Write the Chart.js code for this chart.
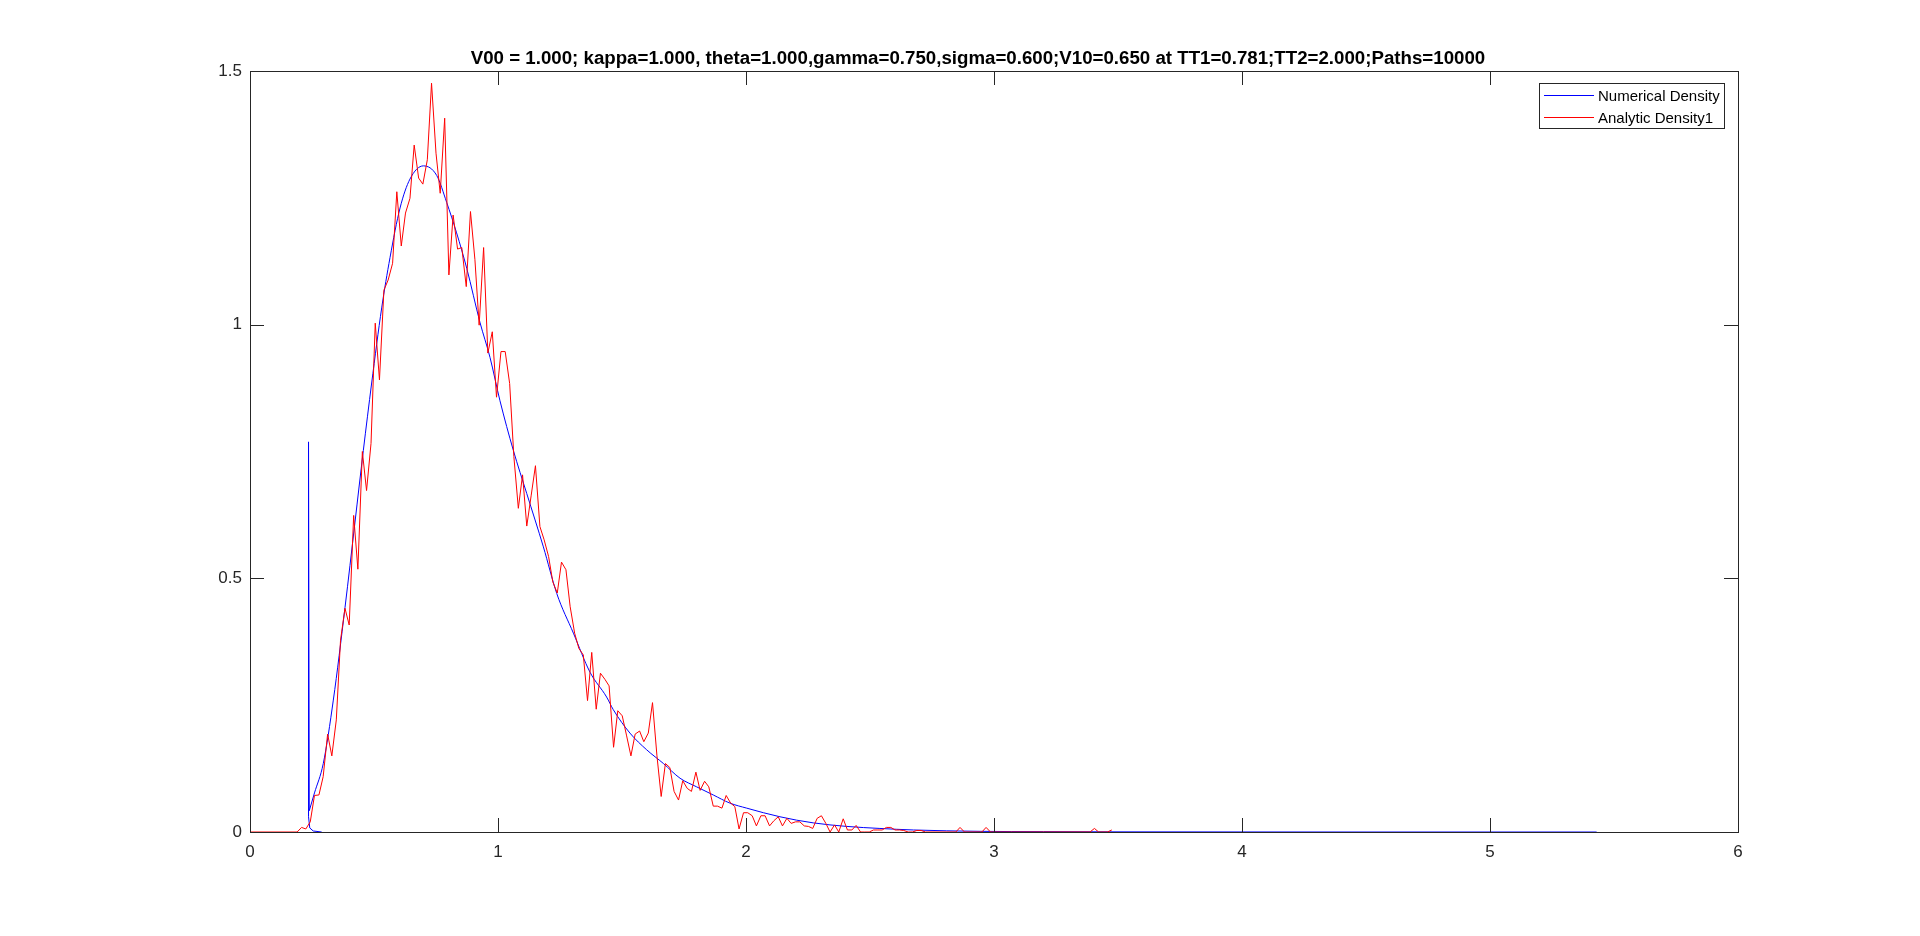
<!DOCTYPE html>
<html>
<head>
<meta charset="utf-8">
<script src="https://cdn.jsdelivr.net/npm/chart.js@4.4.1/dist/chart.umd.min.js"></script>
<style>
  html, body { margin: 0; padding: 0; background: #fff; }
  canvas { display: block; }
</style>
</head>
<body>
<canvas id="myChart" width="1920" height="936"></canvas>
<script>
'use strict';

const titleText = 'V00 = 1.000; kappa=1.000, theta=1.000,gamma=0.750,sigma=0.600;V10=0.650 at TT1=0.781;TT2=2.000;Paths=10000';

const xTicks = [0, 1, 2, 3, 4, 5, 6];
const xTickLabels = ['0', '1', '2', '3', '4', '5', '6'];
const yTicks = [0, 0.5, 1, 1.5];
const yTickLabels = ['0', '0.5', '1', '1.5'];

// numerical density (smooth blue curve)
const blueX = [0.239, 0.26, 0.2955, 0.336, 0.383, 0.4234, 0.457, 0.4906, 0.531, 0.5645, 0.605, 0.645, 0.699, 0.753, 0.793,
  0.833, 0.874, 0.927, 0.968, 1.008, 1.062, 1.116, 1.183, 1.237, 1.304, 1.371, 1.438, 1.465, 1.532, 1.5995, 1.667, 1.734,
  1.801, 1.868, 1.935, 2.003, 2.137, 2.271, 2.406, 2.540, 2.675, 2.944, 3.2, 3.5, 4.0, 4.5, 5.0, 5.43];
const blueY = [0.042, 0.077, 0.135, 0.260, 0.442, 0.611, 0.752, 0.885, 1.033, 1.132, 1.230, 1.287, 1.313, 1.294, 1.241,
  1.181, 1.111, 1.005, 0.935, 0.850, 0.752, 0.667, 0.562, 0.470, 0.392, 0.315, 0.266, 0.241, 0.195, 0.162, 0.135, 0.106,
  0.089, 0.073, 0.057, 0.047, 0.030, 0.018, 0.011, 0.007, 0.004, 0.0013, 0.0007, 0.0003, 0.0001, 0, 0, 0];

// the spike at the start of the numerical density
const spikeX = [0.289, 0.255, 0.241, 0.236, 0.236, 0.239];
const spikeY = [0, 0.002, 0.008, 0.03, 0.769, 0.042];

// analytic density (noisy red curve)
const redX = [0, 0.190, 0.208, 0.225, 0.243, 0.260, 0.278, 0.295, 0.313, 0.330, 0.348, 0.365, 0.383, 0.400, 0.418, 0.435,
  0.453, 0.470, 0.488, 0.505, 0.522, 0.540, 0.557, 0.575, 0.592, 0.610, 0.627, 0.645, 0.662, 0.680, 0.697, 0.715,
  0.732, 0.750, 0.767, 0.785, 0.802, 0.819, 0.837, 0.854, 0.872, 0.889, 0.907, 0.924, 0.942, 0.959, 0.977, 0.994,
  1.012, 1.029, 1.047, 1.064, 1.082, 1.099, 1.116, 1.134, 1.151, 1.169, 1.186, 1.204, 1.221, 1.239, 1.256, 1.274,
  1.291, 1.309, 1.326, 1.344, 1.361, 1.378, 1.396, 1.413, 1.431, 1.448, 1.466, 1.483, 1.501, 1.518, 1.536, 1.553,
  1.571, 1.588, 1.606, 1.623, 1.641, 1.658, 1.675, 1.693, 1.710, 1.728, 1.745, 1.763, 1.780, 1.798, 1.815, 1.833,
  1.850, 1.868, 1.885, 1.903, 1.920, 1.938, 1.955, 1.972, 1.990, 2.007, 2.025, 2.042, 2.060, 2.077, 2.095, 2.112,
  2.130, 2.147, 2.165, 2.182, 2.200, 2.217, 2.235, 2.252, 2.269, 2.287, 2.304, 2.322, 2.339, 2.357, 2.374, 2.392,
  2.409, 2.427, 2.444, 2.462, 2.479, 2.497, 2.514, 2.532, 2.549, 2.566, 2.584, 2.601, 2.619, 2.636, 2.654, 2.671,
  2.689, 2.706, 2.724, 2.846, 2.863, 2.881, 2.951, 2.968, 2.986, 3.387, 3.405, 3.422, 3.457, 3.475];
const redY = [0, 0, 0.009, 0.006, 0.02, 0.072, 0.073, 0.109, 0.193, 0.150, 0.221, 0.378, 0.441, 0.408, 0.624, 0.518,
  0.750, 0.673, 0.766, 1.003, 0.891, 1.068, 1.088, 1.121, 1.262, 1.155, 1.220, 1.249, 1.354, 1.289, 1.277, 1.325,
  1.476, 1.338, 1.259, 1.407, 1.098, 1.216, 1.149, 1.152, 1.075, 1.223, 1.128, 0.999, 1.152, 0.944, 0.986, 0.857,
  0.947, 0.947, 0.884, 0.740, 0.638, 0.704, 0.603, 0.664, 0.722, 0.602, 0.576, 0.543, 0.493, 0.471, 0.532, 0.517,
  0.444, 0.392, 0.362, 0.349, 0.259, 0.354, 0.242, 0.313, 0.301, 0.288, 0.167, 0.239, 0.229, 0.191, 0.150, 0.193,
  0.199, 0.178, 0.195, 0.255, 0.150, 0.070, 0.135, 0.127, 0.080, 0.063, 0.101, 0.086, 0.080, 0.118, 0.082, 0.100,
  0.089, 0.051, 0.051, 0.047, 0.072, 0.057, 0.050, 0.006, 0.038, 0.038, 0.032, 0.012, 0.032, 0.032, 0.012, 0.022,
  0.030, 0.012, 0.027, 0.017, 0.020, 0.020, 0.012, 0.011, 0.007, 0.027, 0.032, 0.017, 0, 0.014, 0, 0.026,
  0.004, 0.004, 0.013, 0, 0, 0, 0.004, 0.004, 0.004, 0.009, 0.009, 0.004, 0.004, 0.003, 0, 0,
  0.003, 0.003, 0, 0, 0.009, 0, 0, 0.009, 0, 0, 0.007, 0, 0, 0.004];

const legendItems = [
  { label: 'Numerical Density', color: '#0000ff' },
  { label: 'Analytic Density1', color: '#ff0000' },
];

const axisColor = '#262626';
const fontFamily = '"Liberation Sans", Arial, Helvetica, sans-serif';

function toPoints(xs, ys) {
  return xs.map((x, i) => ({ x: x, y: ys[i] }));
}

// box, inward ticks, title and legend like the original figure
const figureDecor = {
  id: 'figureDecor',
  afterDraw(chart) {
    const c = chart.ctx;
    const a = chart.chartArea;
    const xs = chart.scales.x;
    const ys = chart.scales.y;
    const tick = 14;
    c.save();
    c.strokeStyle = axisColor;
    c.lineWidth = 1;
    c.strokeRect(a.left + 0.5, a.top + 0.5, a.right - a.left, a.bottom - a.top);
    c.beginPath();
    for (let v of xTicks) {
      let px = Math.round(xs.getPixelForValue(v)) + 0.5;
      c.moveTo(px, a.bottom); c.lineTo(px, a.bottom - tick);
      c.moveTo(px, a.top); c.lineTo(px, a.top + tick);
    }
    for (let v of yTicks) {
      let py = Math.round(ys.getPixelForValue(v)) + 0.5;
      c.moveTo(a.left, py); c.lineTo(a.left + tick, py);
      c.moveTo(a.right, py); c.lineTo(a.right - tick, py);
    }
    c.stroke();

    // title
    c.fillStyle = '#000';
    c.font = 'bold 18.7px ' + fontFamily;
    c.textAlign = 'center';
    c.textBaseline = 'middle';
    c.fillText(titleText, 978, 59);

    // legend
    const lx = 1539, ly = 83, lw = 185, lh = 45;
    c.fillStyle = '#fff';
    c.fillRect(lx, ly, lw, lh);
    c.strokeStyle = axisColor;
    c.strokeRect(lx + 0.5, ly + 0.5, lw, lh);
    c.font = '15px ' + fontFamily;
    c.textAlign = 'left';
    c.textBaseline = 'middle';
    legendItems.forEach((item, i) => {
      let yy = ly + 12.5 + i * 22;
      c.strokeStyle = item.color;
      c.beginPath();
      c.moveTo(lx + 5, yy); c.lineTo(lx + 55, yy);
      c.stroke();
      c.fillStyle = '#000';
      c.fillText(item.label, lx + 59, yy + 1);
    });
    c.restore();
  }
};

const ctx = document.getElementById('myChart');

new Chart(ctx, {
  type: 'line',
  data: {
    datasets: [
      {
        label: 'Analytic Density1',
        data: toPoints(redX, redY),
        borderColor: '#ff0000',
        borderWidth: 1,
        pointRadius: 0,
        tension: 0,
        order: 0
      },
      {
        label: 'Numerical Density',
        data: toPoints(blueX, blueY),
        borderColor: '#0000ff',
        borderWidth: 1,
        pointRadius: 0,
        cubicInterpolationMode: 'monotone',
        order: 1
      },
      {
        label: 'spike',
        data: toPoints(spikeX, spikeY),
        borderColor: '#0000ff',
        borderWidth: 1,
        pointRadius: 0,
        tension: 0,
        order: 1
      }
    ]
  },
  options: {
    responsive: false,
    animation: false,
    devicePixelRatio: 1,
    layout: { padding: { left: 0, right: 182, top: 71, bottom: 0 } },
    plugins: {
      legend: { display: false },
      title: { display: false },
      tooltip: { enabled: false }
    },
    scales: {
      x: {
        type: 'linear',
        min: 0,
        max: 6,
        grid: { display: false, drawTicks: false },
        border: { display: false },
        afterBuildTicks: (s) => { s.ticks = xTicks.map(v => ({ value: v })); },
        ticks: {
          color: axisColor,
          font: { family: fontFamily, size: 17 },
          padding: 10,
          maxRotation: 0,
          callback: (v) => xTickLabels[xTicks.indexOf(v)]
        },
        afterFit: (s) => { s.height = 104; }
      },
      y: {
        type: 'linear',
        min: 0,
        max: 1.5,
        grid: { display: false, drawTicks: false },
        border: { display: false },
        afterBuildTicks: (s) => { s.ticks = yTicks.map(v => ({ value: v })); },
        ticks: {
          color: axisColor,
          font: { family: fontFamily, size: 17 },
          padding: 8,
          callback: (v) => yTickLabels[yTicks.indexOf(v)]
        },
        afterFit: (s) => { s.width = 250; }
      }
    }
  },
  plugins: [figureDecor]
});
</script>
</body>
</html>
